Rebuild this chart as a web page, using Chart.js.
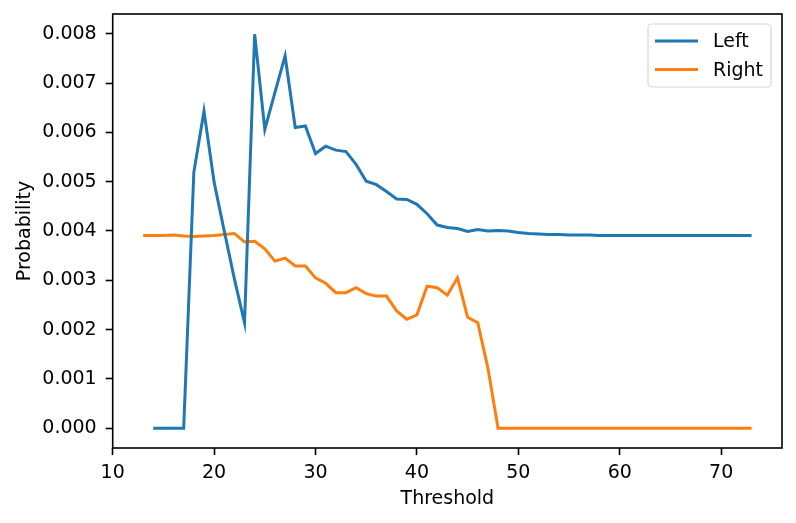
<!DOCTYPE html>
<html>
<head>
<meta charset="utf-8">
<script src="https://cdn.jsdelivr.net/npm/chart.js@4.4.1/dist/chart.umd.min.js"></script>
<style>
  html, body { margin: 0; padding: 0; background: #fff; }
  #wrap { width: 796px; height: 523px; }
</style>
</head>
<body>
<div id="wrap"><canvas id="probChart" width="796" height="523"></canvas></div>
<script>
// Threshold vs probability, two sides
const leftThresholds = [14, 15, 16, 17, 18, 19, 20, 21, 22, 23, 24, 25, 26, 27, 28, 29, 30, 31, 32, 33,
  34, 35, 36, 37, 38, 39, 40, 41, 42, 43, 44, 45, 46, 47, 48, 49, 50, 51, 52, 53,
  54, 55, 56, 57, 58, 59, 60, 61, 62, 63, 64, 65, 66, 67, 68, 69, 70, 71, 72, 73];
const leftProb = [0, 0, 0, 0, 0.00519, 0.00643, 0.00499, 0.00400, 0.00303, 0.00214,
  0.00799, 0.00606, 0.00681, 0.00755, 0.00610, 0.00613, 0.00557, 0.00572, 0.00564, 0.00561,
  0.00535, 0.00501, 0.00494, 0.00480, 0.00465, 0.00464, 0.00454, 0.00435, 0.00412, 0.00407,
  0.00405, 0.00399, 0.00403, 0.00400, 0.00401, 0.00400, 0.00397, 0.00395, 0.00394, 0.00393,
  0.00393, 0.00392, 0.00392, 0.00392, 0.00391, 0.00391, 0.00391, 0.00391, 0.00391, 0.00391,
  0.00391, 0.00391, 0.00391, 0.00391, 0.00391, 0.00391, 0.00391, 0.00391, 0.00391, 0.00391];

const rightThresholds = [13, 14, 15, 16, 17, 18, 19, 20, 21, 22, 23, 24, 25, 26, 27, 28, 29, 30, 31, 32,
  33, 34, 35, 36, 37, 38, 39, 40, 41, 42, 43, 44, 45, 46, 47, 48, 49, 50, 51, 52,
  53, 54, 55, 56, 57, 58, 59, 60, 61, 62, 63, 64, 65, 66, 67, 68, 69, 70, 71, 72, 73];
const rightProb = [0.00391, 0.00391, 0.00391, 0.00392, 0.00390, 0.00389, 0.00390, 0.00391, 0.00393, 0.00395,
  0.00378, 0.00379, 0.00364, 0.00339, 0.00345, 0.00329, 0.00329, 0.00305, 0.00294, 0.00275,
  0.00275, 0.00285, 0.00273, 0.00268, 0.00268, 0.00238, 0.00221, 0.00230, 0.00288, 0.00285,
  0.00270, 0.00305, 0.00225, 0.00214, 0.00122, 0, 0, 0, 0, 0,
  0, 0, 0, 0, 0, 0, 0, 0, 0, 0,
  0, 0, 0, 0, 0, 0, 0, 0, 0, 0, 0];

const xTicks = [10, 20, 30, 40, 50, 60, 70];
const yTicks = [0, 0.001, 0.002, 0.003, 0.004, 0.005, 0.006, 0.007, 0.008];

const FONT = "'DejaVu Sans', sans-serif";
const FS = 19;

// matplotlib-ish frame around the plot area
const framePlugin = {
  id: "frame",
  afterDatasetsDraw(chart) {
    const { ctx, chartArea: a } = chart;
    ctx.save();
    ctx.strokeStyle = "#000";
    ctx.lineWidth = 1.6;
    ctx.strokeRect(a.left, a.top, a.right - a.left, a.bottom - a.top);
    ctx.restore();
  },
};

// legend box in the upper right corner
const legendPlugin = {
  id: "boxLegend",
  afterDraw(chart) {
    const { ctx, chartArea: a } = chart;
    const sets = chart.data.datasets;
    const boxW = 123, boxH = 63;
    const x0 = a.right - 11 - boxW, y0 = a.top + 10;
    ctx.save();
    ctx.beginPath();
    ctx.roundRect(x0, y0, boxW, boxH, 4);
    ctx.fillStyle = "rgba(255,255,255,0.8)";
    ctx.fill();
    ctx.strokeStyle = "#d6d6d6";
    ctx.lineWidth = 1.2;
    ctx.stroke();
    ctx.font = FS + "px " + FONT;
    ctx.textBaseline = "middle";
    sets.forEach((ds, i) => {
      const cy = y0 + 17 + i * 28.6;
      ctx.strokeStyle = ds.borderColor;
      ctx.lineWidth = 3;
      ctx.beginPath();
      ctx.moveTo(x0 + 7, cy);
      ctx.lineTo(x0 + 50, cy);
      ctx.stroke();
      ctx.fillStyle = "#000";
      ctx.fillText(ds.label, x0 + 65, cy + 1);
    });
    ctx.restore();
  },
};

document.addEventListener("DOMContentLoaded", () => {
  const ctx = document.getElementById("probChart").getContext("2d");

  new Chart(ctx, {
    type: "line",
    data: {
      datasets: [
        {
          label: "Left",
          data: leftThresholds.map((t, i) => ({ x: t, y: leftProb[i] })),
          borderColor: "#1f77b4",
          borderWidth: 3,
          pointRadius: 0,
          fill: false,
          tension: 0,
        },
        {
          label: "Right",
          data: rightThresholds.map((t, i) => ({ x: t, y: rightProb[i] })),
          borderColor: "#ff7f0e",
          borderWidth: 3,
          pointRadius: 0,
          fill: false,
          tension: 0,
        },
      ],
    },
    options: {
      responsive: false,
      animation: false,
      layout: { padding: { left: 0, right: 14, top: 14, bottom: 0 } },
      plugins: {
        legend: { display: false },
        tooltip: { enabled: false },
      },
      scales: {
        x: {
          type: "linear",
          min: 10,
          max: 76,
          afterBuildTicks: (s) => { s.ticks = xTicks.map((v) => ({ value: v })); },
          afterFit: (s) => { s.height = 75; s.paddingLeft = 0; s.paddingRight = 0; },
          grid: { drawOnChartArea: false, drawTicks: true, tickLength: 7, tickWidth: 1.6, color: "#000" },
          border: { display: false },
          ticks: { color: "#000", font: { family: FONT, size: FS }, padding: 7, maxRotation: 0 },
          title: { display: true, text: "Threshold", color: "#000", font: { family: FONT, size: FS }, padding: { top: 4, bottom: 13 } },
        },
        y: {
          type: "linear",
          min: -0.0004,
          max: 0.0084,
          afterBuildTicks: (s) => { s.ticks = yTicks.map((v) => ({ value: v })); },
          afterFit: (s) => { s.width = 112.7; s.paddingTop = 0; s.paddingBottom = 0; },
          grid: { drawOnChartArea: false, drawTicks: true, tickLength: 7, tickWidth: 1.6, color: "#000" },
          border: { display: false },
          ticks: { color: "#000", font: { family: FONT, size: FS }, padding: 9, callback: (v) => v.toFixed(3) },
          title: { display: true, text: "Probability", color: "#000", font: { family: FONT, size: FS }, padding: { top: 13.6, bottom: 4 } },
        },
      },
    },
    plugins: [framePlugin, legendPlugin],
  });
});
</script>
</body>
</html>
